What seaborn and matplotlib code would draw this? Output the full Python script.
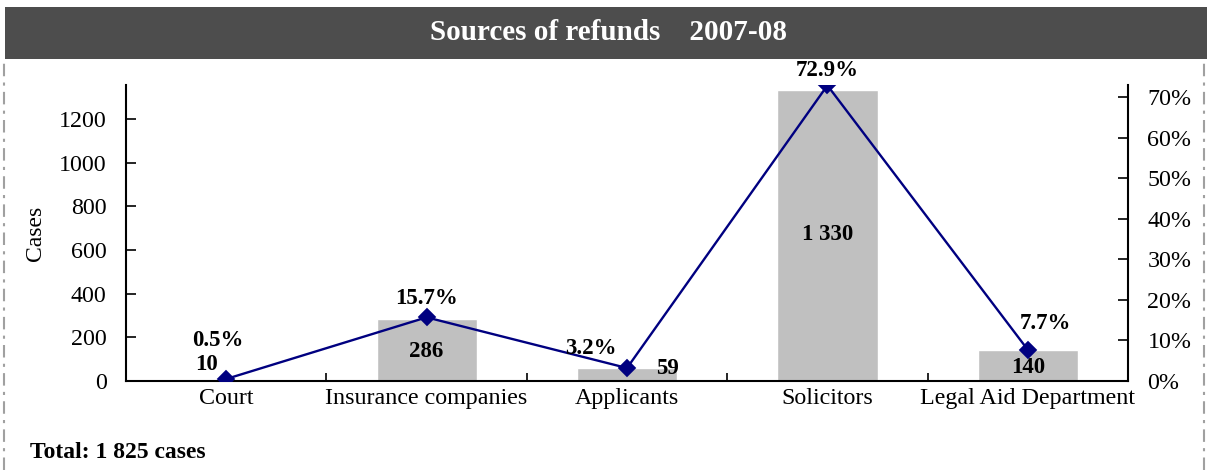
import matplotlib
matplotlib.use("Agg")
import matplotlib.pyplot as plt
import seaborn as sns
import numpy as np
from matplotlib.patches import Rectangle
from matplotlib.lines import Line2D
from matplotlib.ticker import FuncFormatter, FixedLocator

categories = ["Court", "Insurance companies", "Applicants", "Solicitors", "Legal Aid Department"]
cases = [10, 286, 59, 1330, 140]
shares = [0.005, 0.157, 0.032, 0.729, 0.077]
case_labels = ["10", "286", "59", "1 330", "140"]
share_labels = ["0.5%", "15.7%", "3.2%", "72.9%", "7.7%"]
left_ticks = [0, 200, 400, 600, 800, 1000, 1200]
right_ticks = [0, 0.1, 0.2, 0.3, 0.4, 0.5, 0.6, 0.7]
title_text = "Sources of refunds    2007-08"
total_text = "Total: 1 825 cases"

sns.set_theme(style="white")
plt.rcParams['font.family'] = ['Liberation Serif', 'DejaVu Serif']
plt.rcParams['text.color'] = 'black'
plt.rcParams['xtick.color'] = 'black'
plt.rcParams['ytick.color'] = 'black'
plt.rcParams['axes.labelcolor'] = 'black'

W, H = 1207, 470
fig = plt.figure(figsize=(W / 100, H / 100), dpi=100)

# title bar
fig.patches.append(Rectangle((5 / W, 1 - 59 / H), 1 - 5 / W, 52 / H, transform=fig.transFigure,
                             facecolor="#4d4d4d", edgecolor="none", zorder=0))
fig.text(609 / W, 1 - 33 / H, title_text, color="white", fontsize=21, fontweight="bold",
         ha="center", va="center")
# dashed border
for xpx in (4, 1204):
    fig.lines.append(Line2D([xpx / W, xpx / W], [0, 1 - 60 / H], transform=fig.transFigure,
                            color="#a0a0a0", lw=1.5, ls=(0, (6, 3, 1.5, 3))))

ax = fig.add_axes([126 / W, (H - 381) / H, 1002 / W, (381 - 85) / H])
sns.barplot(x=categories, y=cases, ax=ax, color="#c0c0c0", saturation=1, width=0.5, zorder=2)
ax.set_ylim(0, 1355)
ax.set_xlim(-0.5, 4.5)
ax.yaxis.set_major_locator(FixedLocator(left_ticks))
ax.set_ylabel("Cases", fontsize=17, labelpad=9)
ax.tick_params(axis="y", direction="in", length=7, width=1.2, labelsize=17.3, left=True, pad=14)
ax.tick_params(axis="x", which="major", length=0, labelsize=17.3, pad=5)
ax.set_xticks(np.arange(len(categories)) + 0.5, minor=True)
ax.tick_params(axis="x", which="minor", direction="in", length=6, width=1.2, bottom=True)
for s in ("left", "bottom"):
    ax.spines[s].set_color("black")
    ax.spines[s].set_linewidth(1.5)
ax.spines["top"].set_visible(False)
ax.spines["right"].set_visible(False)

ax2 = ax.twinx()
sns.pointplot(x=categories, y=shares, ax=ax2, color="#000080", markers="D",
              linestyles="-", markersize=8, linewidth=1.7)
ax2.set_ylim(0, 0.73)
ax2.set_xlim(-0.5, 4.5)
ax2.yaxis.set_major_locator(FixedLocator(right_ticks))
ax2.yaxis.set_major_formatter(FuncFormatter(lambda v, p: f"{v * 100:.0f}%"))
ax2.tick_params(axis="y", direction="in", length=7, width=1.2, labelsize=17.3, right=True, pad=14)
ax2.set_ylabel("")
ax2.spines["right"].set_color("black")
ax2.spines["right"].set_linewidth(1.5)
for s in ("top", "left", "bottom"):
    ax2.spines[s].set_visible(False)

# case labels: (x offset from category, y in data units)
case_pos = [(-0.1, 75), (0.0, 135), (0.2, 55), (0.0, 670), (0.0, 62)]
for i, (lab, pos) in enumerate(zip(case_labels, case_pos)):
    ax.text(i + pos[0], pos[1], lab, fontsize=16.5, fontweight="bold", ha="center", va="center", zorder=5)

# share labels: (x offset from category, y in share units)
share_pos = [(-0.04, 0.101), (0.0, 0.204), (-0.18, 0.081), (0.0, 0.765), (0.09, 0.143)]
for i, (lab, pos) in enumerate(zip(share_labels, share_pos)):
    ax2.text(i + pos[0], pos[1], lab, fontsize=16.5, fontweight="bold", ha="center", va="center",
             clip_on=False)

fig.text(30 / W, 1 - 452 / H, total_text, fontsize=17, fontweight="bold", ha="left", va="center")

fig.savefig("out.png", dpi=100)
